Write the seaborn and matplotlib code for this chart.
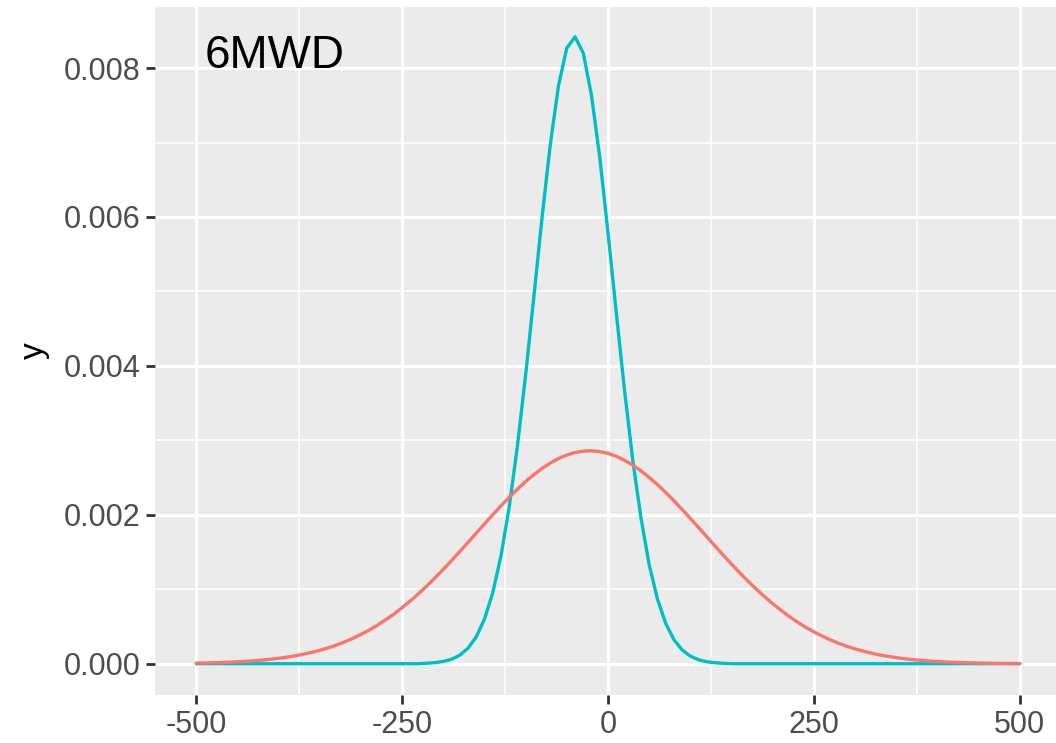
import numpy as np
import pandas as pd
import seaborn as sns
import matplotlib.pyplot as plt
from matplotlib.ticker import FixedLocator

# x grid used for both curves (step 10, like stat_function n=101)
x_grid = np.arange(-500, 510, 10)

# density values
red_y = [
    0.0000081, 0.0000103, 0.0000130, 0.0000165, 0.0000207, 0.0000258, 0.0000321, 0.0000397,
    0.0000488, 0.0000598, 0.0000728, 0.0000881, 0.000106, 0.000127, 0.000152, 0.000180,
    0.000213, 0.000250, 0.000292, 0.000339, 0.000393, 0.000452, 0.000517, 0.000589,
    0.000667, 0.000752, 0.000843, 0.000941, 0.001044, 0.001153, 0.001267, 0.001385,
    0.001506, 0.001629, 0.001753, 0.001877, 0.002000, 0.002119, 0.002235, 0.002344,
    0.002446, 0.002540, 0.002623, 0.002696, 0.002756, 0.002803, 0.002836, 0.002855,
    0.002860, 0.002849, 0.002825, 0.002786, 0.002733, 0.002668, 0.002591, 0.002503,
    0.002406, 0.002301, 0.002189, 0.002072, 0.001951, 0.001828, 0.001704, 0.001580,
    0.001457, 0.001337, 0.001221, 0.001109, 0.001002, 0.000901, 0.000806, 0.000718,
    0.000635, 0.000559, 0.000490, 0.000427, 0.000371, 0.000320, 0.000275, 0.000235,
    0.000199, 0.000169, 0.000142, 0.000118, 0.0000986, 0.0000817, 0.0000673, 0.0000551,
    0.0000450, 0.0000365, 0.0000295, 0.0000237, 0.0000189, 0.0000150, 0.0000119, 0.0000094,
    0.0000073, 0.0000057, 0.0000044, 0.0000034, 0.0000026,
]

teal_y = (
    [0.0] * 28
    + [0.0000068, 0.0000146, 0.0000303, 0.0000602, 0.000114, 0.000208, 0.000360, 0.000599,
       0.000950, 0.001445, 0.00210, 0.00292, 0.00388, 0.00493, 0.00600, 0.00698,
       0.00777, 0.00827, 0.00842, 0.00820, 0.00763, 0.00680, 0.00579, 0.00472,
       0.00368, 0.00274, 0.00196, 0.00133, 0.000870, 0.000543, 0.000324, 0.000185,
       0.000101, 0.0000527, 0.0000263, 0.0000126, 0.0000057]
    + [0.0] * 36
)

x_ticks = [-500, -250, 0, 250, 500]
x_tick_labels = ["-500", "-250", "0", "250", "500"]
y_ticks = [0.000, 0.002, 0.004, 0.006, 0.008]
y_tick_labels = ["0.000", "0.002", "0.004", "0.006", "0.008"]
panel_label = "6MWD"

df = pd.concat([
    pd.DataFrame({"x": x_grid, "y": teal_y, "group": "b"}),
    pd.DataFrame({"x": x_grid, "y": red_y, "group": "a"}),
])

sns.set_theme(style="darkgrid")
plt.rcParams["font.family"] = ["Liberation Sans", "DejaVu Sans"]

fig = plt.figure(figsize=(10.56, 7.43), dpi=100)
ax = fig.add_axes([155 / 1056, 1 - 695 / 743, 906 / 1056, 688 / 743])
ax.set_facecolor("#EBEBEB")

sns.lineplot(data=df, x="x", y="y", hue="group", hue_order=["b", "a"],
             palette={"a": "#F8766D", "b": "#00BFC4"}, sort=False,
             linewidth=2.4, legend=False, ax=ax, zorder=3)

ax.set_xlim(-550, 550)
ax.set_ylim(-0.00042, 0.00882)
ax.set_xticks(x_ticks, x_tick_labels)
ax.set_yticks(y_ticks, y_tick_labels)
ax.xaxis.set_minor_locator(FixedLocator([-375, -125, 125, 375]))
ax.yaxis.set_minor_locator(FixedLocator([0.001, 0.003, 0.005, 0.007]))
ax.grid(which="major", color="white", linewidth=2.2)
ax.grid(which="minor", color="white", linewidth=1.1)
ax.tick_params(which="major", length=6.5, width=2.0, color="#333333",
               labelsize=22, labelcolor="#4D4D4D", pad=4, left=True, bottom=True)
ax.tick_params(which="minor", length=0)
for s in ax.spines.values():
    s.set_visible(False)

ax.set_xlabel("")
ax.set_ylabel("y", fontsize=24, color="black", labelpad=10)
ax.text(-490, 0.008, panel_label, fontsize=33, color="black", ha="left", va="baseline")

fig.savefig("out.png", dpi=100)
